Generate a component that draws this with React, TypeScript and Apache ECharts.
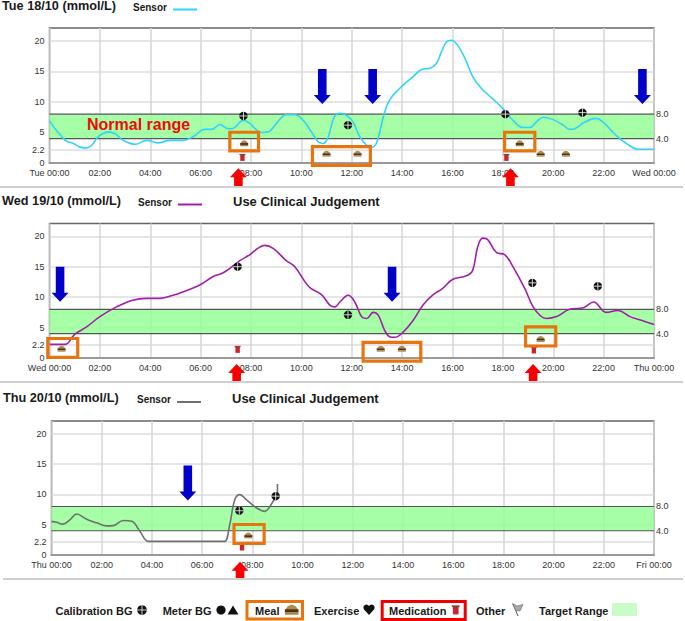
import React, { useEffect, useRef } from "react";
import * as echarts from "echarts";

type P = [number, number];

const dayLabels = ["Tue", "Wed", "Thu"];
const nextDayLabels = ["Wed", "Thu", "Fri"];
const titles = ["Tue 18/10 (mmol/L)", "Wed 19/10 (mmol/L)", "Thu 20/10 (mmol/L)"];
const yTicks = [0, 2.2, 5, 10, 15, 20];
const rightTicks = [4, 8];
const targetRange = [4, 8];

const tueSensor: P[] = [[0,6.9],[0.22,5.6],[0.49,4.3],[0.69,3.55],[0.95,3.2],[1.22,2.6],[1.48,2.46],[1.68,2.9],[1.87,4],[2.07,4.7],[2.34,5.1],[2.6,4.8],[2.93,3.7],[3.4,3.06],[3.86,3.7],[4.3,3.3],[4.8,3.7],[5.3,3.7],[5.7,4.3],[6.17,5.5],[6.44,5.5],[6.77,6.3],[7.1,5.6],[7.3,5.7],[7.7,7],[7.96,6.45],[8.42,5],[8.7,5.1],[9,6.45],[9.4,7.9],[9.74,7.9],[10.07,7],[10.4,5.1],[10.67,3.45],[10.87,3.2],[11.07,4.3],[11.3,7.5],[11.53,8.15],[12,7],[12.32,4.3],[12.6,2.9],[12.8,2.6],[13,3.45],[13.25,7.5],[13.5,10.3],[13.9,12.2],[14.4,14],[14.8,15.35],[15.1,15.5],[15.36,16.3],[15.56,18.2],[15.76,19.8],[15.96,20.1],[16.2,19.3],[16.5,17.1],[16.82,14],[17.15,12.2],[17.6,10.5],[18,8.9],[18.4,7],[18.8,5.8],[19.07,5.8],[19.33,6.7],[19.6,7.5],[20,7.1],[20.4,6.2],[20.65,5.5],[20.85,5.6],[21.25,6.7],[21.7,7.3],[22,6.6],[22.5,4.5],[22.9,3.2],[23.4,2.25],[24,2.25]];
const wedSensor: P[] = [[0,2.24],[0.62,2.24],[1,3.9],[1.47,5.1],[2,6.8],[2.66,8.4],[3.3,9.5],[3.86,9.8],[4.4,9.8],[4.9,10.3],[5.25,10.8],[5.97,12],[6.5,13.4],[6.9,14],[7.56,16],[7.96,17],[8.3,18.1],[8.55,18.5],[8.88,18],[9.4,16],[9.74,15],[10.3,11.7],[10.8,10.4],[11.13,8.7],[11.33,8.4],[11.53,9.2],[11.86,10.3],[12.12,9.2],[12.39,6.8],[12.6,6.5],[12.85,7.5],[13.05,7.05],[13.3,4.6],[13.5,3.5],[13.7,3.4],[14.05,4.3],[14.44,6.2],[14.83,8.7],[15.2,10.3],[15.6,11.4],[16,12.9],[16.55,13.5],[16.8,14.4],[17,18.25],[17.2,19.7],[17.35,19.6],[17.75,17.3],[18.07,17],[18.4,15],[18.87,11.4],[19.2,8.4],[19.5,6.9],[19.73,6.5],[20.13,6.8],[20.65,8],[21.2,8.25],[21.6,9.2],[22.1,7.5],[22.57,7.8],[23.05,6.8],[23.5,6.2],[24,5.5]];
const thuSensor: P[] = [[0,5.55],[0.2,5.4],[0.45,5.1],[0.73,5.8],[1,6.75],[1.4,5.9],[1.8,5.3],[2.2,4.8],[2.47,4.85],[2.86,5.7],[3.2,5.55],[3.52,3.9],[3.85,2.25],[4.1,2.25],[6.7,2.25],[6.9,2.25],[7.1,5],[7.3,9.1],[7.5,9.95],[7.77,9.1],[8.17,7.75],[8.5,7.2],[8.7,8],[8.9,9.4],[9,10.2],[9,11.7]];

const tueCal: P[] = [[7.7,7.7],[11.85,6.2],[18.1,8],[21.16,8.25]];
const wedCal: P[] = [[7.47,15],[11.85,7.1],[19.17,12.35],[21.77,11.8]];
const thuCal: P[] = [[7.48,7.3],[8.93,9.7]];

const tueMeal: P[] = [[7.73,3.2],[11,1.5],[12.23,1.5],[18.67,3.2],[19.5,1.5],[20.5,1.5]];
const wedMeal: P[] = [[0.48,1.5],[13.15,1.5],[13.99,1.5],[19.5,3.1]];
const thuMeal: P[] = [[7.84,3.2]];

const tueMed: P[] = [[7.66,0.9],[18.14,0.9]];
const wedMed: P[] = [[7.47,1.4],[19.23,1.3]];
const thuMed: P[] = [[7.59,1.3]];

// [hour from, hour to, value top, value bottom]
const tueBoxes = [[7.16,8.3,5.03,2],[10.44,12.74,2.67,-0.38],[18.07,19.27,5.03,2]];
const wedBoxes = [[-0.07,1.12,3.2,0.1],[12.45,14.74,2.57,-0.5],[18.9,20.1,5.1,1.97]];
const thuBoxes = [[7.27,8.47,5.03,1.92]];

const tueBlue: P[] = [[10.83,9.67],[12.83,9.67],[23.54,9.67]];
const wedBlue: P[] = [[0.42,9.23],[13.6,9.23]];
const thuBlue: P[] = [[5.43,9]];

const tueRed: P[] = [[7.5,-0.87],[18.3,-0.87]];
const wedRed: P[] = [[7.43,-1],[19.2,-1]];
const thuRed: P[] = [[7.51,-1.1]];

const sensors = [tueSensor, wedSensor, thuSensor];
const cals = [tueCal, wedCal, thuCal];
const meals = [tueMeal, wedMeal, thuMeal];
const meds = [tueMed, wedMed, thuMed];
const boxes = [tueBoxes, wedBoxes, thuBoxes];
const blues = [tueBlue, wedBlue, thuBlue];
const reds = [tueRed, wedRed, thuRed];
const lineColors = ["#2fd3fb", "#a11fa8", "#6f6f6f"];

const grids = [
  { left: 49.5, top: 28, width: 604.5, height: 135 },
  { left: 49.5, top: 223.5, width: 604.5, height: 134.5 },
  { left: 51.5, top: 421, width: 602.5, height: 134 },
];
const FONT = "'Liberation Sans', Arial, sans-serif";

function calIcon(r = 4) {
  return [
    { type: "circle", shape: { cx: 0, cy: 0, r }, style: { fill: "#111" } },
    { type: "line", shape: { x1: -r, y1: 0, x2: r, y2: 0 }, style: { stroke: "#fff", lineWidth: 0.8 } },
    { type: "line", shape: { x1: 0, y1: -r, x2: 0, y2: r }, style: { stroke: "#fff", lineWidth: 0.8 } },
  ];
}
function mealIcon(s = 1) {
  return [
    { type: "polygon", shape: { points: [[-4*s,0],[-2.2*s,-2.4*s],[0,-3.2*s],[2.2*s,-2.4*s],[4*s,0]] }, style: { fill: "#b08a4e" } },
    { type: "rect", shape: { x: -4*s, y: -0.4*s, width: 8*s, height: 1.9*s }, style: { fill: "#4d3410" } },
    { type: "rect", shape: { x: -4*s, y: 1.5*s, width: 8*s, height: 1.3*s }, style: { fill: "#a98345" } },
  ];
}
function medIcon(s = 1) {
  return [
    { type: "rect", shape: { x: -2.2*s, y: -2.6*s, width: 4.4*s, height: 6*s }, style: { fill: "#c9252b" } },
    { type: "rect", shape: { x: -3*s, y: -3.6*s, width: 6*s, height: 1.4*s }, style: { fill: "#7a4a42" } },
  ];
}

function iconSeries(i: number, pts: P[], make: () => any[]) {
  return {
    type: "custom", xAxisIndex: i, yAxisIndex: i, z: 8, silent: true, data: pts,
    renderItem: (p: any, api: any) => {
      const c = api.coord(pts[p.dataIndex]);
      return { type: "group", x: c[0], y: c[1], children: make() };
    },
  };
}

function arrowSeries(i: number, pts: P[], color: string, length: number, headLen: number) {
  return {
    type: "custom", xAxisIndex: i, yAxisIndex: i, z: 12, silent: true, data: pts,
    renderItem: (p: any, api: any) => {
      const c = api.coord(pts[p.dataIndex]);
      const sw = 4.3, hw = 8.5;
      return {
        type: "group", x: c[0], y: c[1],
        children: [{
          type: "polygon",
          shape: { points: [[0,0],[hw,headLen],[sw,headLen],[sw,length],[-sw,length],[-sw,headLen],[-hw,headLen]] },
          style: { fill: color },
        }],
      };
    },
  };
}

function bandSeries(i: number) {
  return {
    type: "custom", xAxisIndex: i, yAxisIndex: i, z: 1, silent: true, data: [targetRange],
    renderItem: (_p: any, api: any) => {
      const a = api.coord([0, targetRange[1]]);
      const b = api.coord([24, targetRange[0]]);
      return {
        type: "group",
        children: [
          { type: "rect", shape: { x: a[0], y: a[1], width: b[0] - a[0], height: b[1] - a[1] }, style: { fill: "rgba(146,255,146,0.82)" } },
          { type: "line", shape: { x1: a[0], y1: a[1], x2: b[0], y2: a[1] }, style: { stroke: "#555", lineWidth: 1.2 } },
          { type: "line", shape: { x1: a[0], y1: b[1], x2: b[0], y2: b[1] }, style: { stroke: "#555", lineWidth: 1.2 } },
        ],
      };
    },
  };
}

function boxSeries(i: number) {
  const list = boxes[i];
  return {
    type: "custom", xAxisIndex: i, yAxisIndex: i, z: 11, silent: true, data: list,
    renderItem: (p: any, api: any) => {
      const q = list[p.dataIndex];
      const a = api.coord([q[0], q[2]]);
      const b = api.coord([q[1], q[3]]);
      return {
        type: "rect",
        shape: { x: a[0], y: a[1], width: b[0] - a[0], height: b[1] - a[1] },
        style: { fill: "none", stroke: "#e7740f", lineWidth: 3.2 },
      };
    },
  };
}

function txt(text: string, x: number, y: number, fontSize: number, fontWeight: string = "bold", fill = "#1a1a1a") {
  return { type: "text", x, y, z: 20, silent: true, style: { text, fontSize, fontWeight, fontFamily: FONT, fill, align: "left", verticalAlign: "middle" } };
}

function buildOption() {
  const graphic: any[] = [
    txt(titles[0], 2, 6, 12.7), txt("Sensor", 133, 7, 10),
    txt(titles[1], 2, 201, 12.7), txt("Sensor", 138, 202, 10), txt("Use Clinical Judgement", 233, 201, 13),
    txt(titles[2], 3, 398, 12.7), txt("Sensor", 137, 399, 10), txt("Use Clinical Judgement", 232, 398, 13),
    { type: "line", z: 20, shape: { x1: 173, y1: 9.5, x2: 197, y2: 9.5 }, style: { stroke: lineColors[0], lineWidth: 2 } },
    { type: "line", z: 20, shape: { x1: 178, y1: 204.5, x2: 202, y2: 204.5 }, style: { stroke: lineColors[1], lineWidth: 2 } },
    { type: "line", z: 20, shape: { x1: 177, y1: 402, x2: 201, y2: 402 }, style: { stroke: lineColors[2], lineWidth: 2 } },
    txt("Normal range", 87, 124, 16, "bold", "#f00a0a"),
    { type: "rect", z: 20, shape: { x: 0, y: 186, width: 683, height: 2 }, style: { fill: "#cfcfcf" } },
    { type: "rect", z: 20, shape: { x: 0, y: 381, width: 683, height: 2 }, style: { fill: "#cfcfcf" } },
    { type: "rect", z: 20, shape: { x: 3, y: 578, width: 680, height: 2 }, style: { fill: "#cfcfcf" } },
    // bottom legend
    txt("Calibration BG", 55.5, 611, 11),
    { type: "group", x: 142, y: 610, z: 20, children: calIcon(4.8) },
    txt("Meter BG", 162.7, 611, 11),
    { type: "circle", z: 20, shape: { cx: 221, cy: 610, r: 4.6 }, style: { fill: "#111" } },
    { type: "polygon", z: 20, shape: { points: [[233,605.5],[238.5,614.5],[227.5,614.5]] }, style: { fill: "#111" } },
    { type: "rect", z: 20, shape: { x: 247, y: 601.5, width: 55.5, height: 17.5 }, style: { fill: "none", stroke: "#e7740f", lineWidth: 3 } },
    txt("Meal", 255, 611, 11),
    { type: "group", x: 291.7, y: 610, z: 20, children: mealIcon(1.7) },
    txt("Exercise", 314, 611, 11),
    { type: "circle", z: 20, shape: { cx: 366.4, cy: 607.5, r: 3 }, style: { fill: "#111" } },
    { type: "circle", z: 20, shape: { cx: 371.6, cy: 607.5, r: 3 }, style: { fill: "#111" } },
    { type: "polygon", z: 20, shape: { points: [[363.6,609],[374.4,609],[369,615]] }, style: { fill: "#111" } },
    { type: "rect", z: 20, shape: { x: 382.2, y: 601.5, width: 83, height: 18 }, style: { fill: "none", stroke: "#f20000", lineWidth: 3 } },
    txt("Medication", 389, 611, 11),
    { type: "group", x: 455.7, y: 610, z: 20, children: medIcon(1.3) },
    txt("Other", 476, 611, 11),
    { type: "line", z: 20, shape: { x1: 513, y1: 604, x2: 518, y2: 616 }, style: { stroke: "#555", lineWidth: 1 } },
    { type: "polygon", z: 20, shape: { points: [[512.5,603.5],[517,606],[523,604.5],[520,611],[515.5,610.5]] }, style: { fill: "#aaa", stroke: "#666", lineWidth: 0.6 } },
    txt("Target Range", 539, 611, 11),
    { type: "rect", z: 20, shape: { x: 612, y: 603, width: 25, height: 13 }, style: { fill: "#c9fcc9" } },
  ];

  const series: any[] = [];
  sensors.forEach((data, i) => {
    series.push(bandSeries(i));
    series.push({
      type: "line", xAxisIndex: i, yAxisIndex: i, data, showSymbol: false, smooth: 0.4, z: 5, silent: true,
      lineStyle: { color: lineColors[i], width: 1.6 },
    });
    series.push(iconSeries(i, cals[i], () => calIcon(4.2)));
    series.push(iconSeries(i, meds[i], () => medIcon(1)));
    series.push(iconSeries(i, meals[i], () => mealIcon(1)));
    series.push(boxSeries(i));
    series.push(arrowSeries(i, blues[i], "#0000c8", -35, -9));
    series.push(arrowSeries(i, reds[i], "#f60000", 18, 9));
  });

  return {
    animation: false,
    backgroundColor: "#fff",
    graphic,
    grid: grids.map((g) => ({ ...g, show: true, borderColor: "#666", borderWidth: 1.4, containLabel: false, z: 0 })),
    xAxis: grids.map((_, i) => ({
      type: "value", gridIndex: i, min: 0, max: 24, interval: 2,
      axisLine: { show: true, onZero: false, lineStyle: { color: "#999", width: 2 } },
      axisTick: { show: false },
      splitLine: { show: true, lineStyle: { color: "#d6d6d6", width: 1.5 } },
      axisLabel: {
        margin: 5, fontSize: 9, color: "#333", fontFamily: FONT, showMinLabel: true, showMaxLabel: true, hideOverlap: false,
        formatter: (v: number) => {
          const t = String(v % 24).padStart(2, "0") + ":00";
          if (v === 0) return dayLabels[i] + " " + t;
          if (v === 24) return nextDayLabels[i] + " " + t;
          return t;
        },
      },
    })),
    yAxis: [
      ...grids.map((_, i) => ({
        type: "value", gridIndex: i, min: 0, max: 22.1,
        axisLine: { show: false },
        axisTick: { show: false, customValues: yTicks },
        splitLine: { show: true, lineStyle: { color: "#dcdcdc", width: 1.5 } },
        axisLabel: { customValues: yTicks, margin: 5, fontSize: 9, color: "#333", fontFamily: FONT, formatter: (v: number) => String(v) },
      })),
      ...grids.map((_, i) => ({
        type: "value", gridIndex: i, min: 0, max: 22.1, position: "right",
        axisLine: { show: false },
        axisTick: { show: false, customValues: rightTicks },
        splitLine: { show: false },
        axisLabel: { customValues: rightTicks, margin: 2, fontSize: 9, color: "#333", fontFamily: FONT, formatter: (v: number) => v.toFixed(1) },
      })),
    ],
    series,
  };
}

export default function App() {
  const ref = useRef<HTMLDivElement>(null);
  useEffect(() => {
    const chart = echarts.init(ref.current!, undefined, { renderer: "svg" });
    chart.setOption(buildOption() as any);
    return () => chart.dispose();
  }, []);
  return <div ref={ref} style={{ position: "absolute", left: 0, top: 0, width: 685, height: 621 }} />;
}
